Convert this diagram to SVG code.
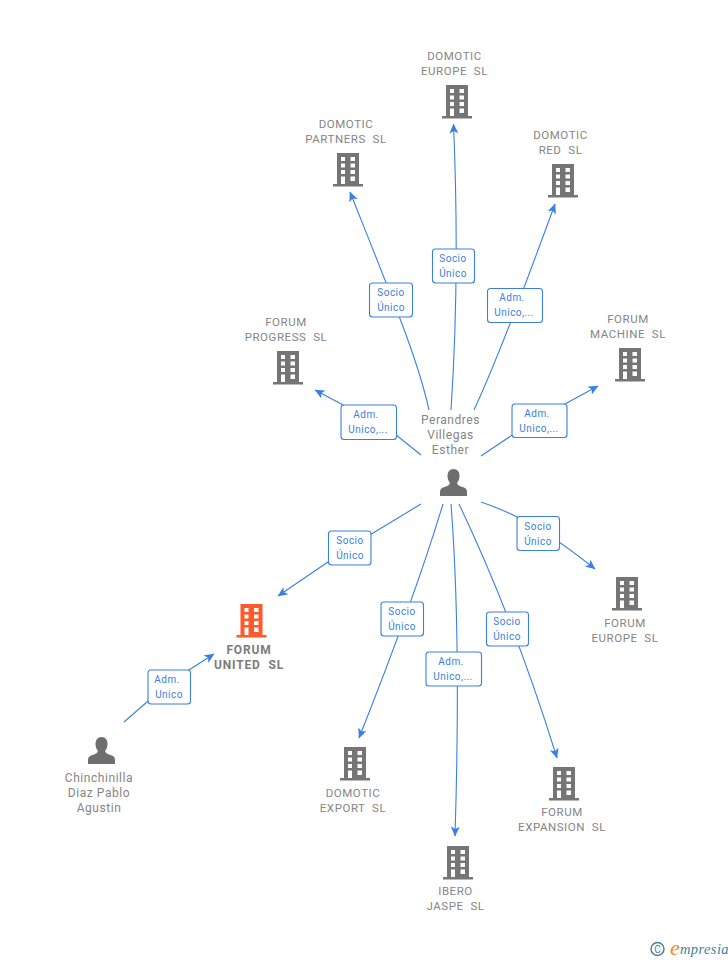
<svg xmlns="http://www.w3.org/2000/svg" width="728" height="960" viewBox="0 0 728 960">
<style>
.t{font:11.5px Roboto,"Liberation Sans",sans-serif;fill:#858585;text-anchor:middle;white-space:pre;letter-spacing:.55px}
.p{font-size:12px;letter-spacing:.55px}
.u{font-weight:700;font-size:12px;letter-spacing:.85px;fill:#7c7c7c}
.l{font:10px Roboto,"Liberation Sans",sans-serif;fill:#3a80e0;text-anchor:middle;letter-spacing:.45px}
.b{fill:#fff;stroke:#3a80e0;stroke-width:1.1}
.c{fill:none;stroke:#3a80e0;stroke-width:1.1;marker-end:url(#a)}
</style>
<defs>
<marker id="a" markerUnits="userSpaceOnUse" markerWidth="12" markerHeight="12" refX="9.500" refY="4.500" orient="auto"><path d="M0 0L10 4.500L0 9L2.500 4.500Z" fill="#3a80e0"/></marker>
<path id="bld" fill-rule="evenodd" d="M-11 0H11V31H15V33.500H-15V31H-11ZM-7 4V8H-3V4ZM2.500 4V8H7V4ZM-7 10.500V14.500H-3V10.500ZM2.500 10.500V14.500H7V10.500ZM-7 17V21H-3V17ZM2.500 17V21H7V17ZM-7 23.500V31H-3V23.500ZM2.500 23.500V28H7V23.500Z"/>
<path id="per" d="M0 0C4 0 6 3 6 7C6 10 5 12 3.500 14C4 16 6 17 9 18C12 19 13.500 20 13.500 23V27H-13.500V23C-13.500 20 -12 19 -9 18C-6 17 -4 16 -3.500 14C-5 12 -6 10 -6 7C-6 3 -4 0 0 0Z"/>
</defs>
<g id="connectors">
<path class="c" d="M451 410C457 320 458 230 453.500 124"/>
<path class="c" d="M429 410C418 360 395 305 350 192"/>
<path class="c" d="M474 410C495 365 520 300 555 204"/>
<path class="c" d="M421 455L390 430L315 390"/>
<path class="c" d="M481 456L530 423L598 386"/>
<path class="c" d="M481 502C510 512 540 525 595 569"/>
<path class="c" d="M459 504C488 565 525 655 557 758"/>
<path class="c" d="M451 504C460 620 458 740 455 836"/>
<path class="c" d="M443 504C420 580 390 660 359 738"/>
<path class="c" d="M421 504L350 547L278 596"/>
<path class="c" d="M124 722L170 682L214 654"/>
</g>
<g id="edge-labels">
<g><rect class="b" x="432.500" y="249" width="42" height="34" rx="3"/><text class="l" x="453" y="262">Socio</text><text class="l" x="453" y="277">Único</text></g>
<g><rect class="b" x="369.500" y="283" width="43" height="34" rx="3"/><text class="l" x="391" y="296">Socio</text><text class="l" x="391" y="311">Único</text></g>
<g><rect class="b" x="487.500" y="288.500" width="55" height="34" rx="3"/><text class="l" x="512" y="301">Adm.</text><text class="l" x="514" y="316">Unico,...</text></g>
<g><rect class="b" x="341" y="405" width="55.500" height="34.500" rx="3"/><text class="l" x="366" y="418">Adm.</text><text class="l" x="368" y="433">Unico,...</text></g>
<g><rect class="b" x="512" y="404" width="55" height="33.500" rx="3"/><text class="l" x="537" y="417">Adm.</text><text class="l" x="539" y="432">Unico,...</text></g>
<g><rect class="b" x="517" y="516.500" width="42.500" height="34" rx="3"/><text class="l" x="538" y="530">Socio</text><text class="l" x="538" y="545">Único</text></g>
<g><rect class="b" x="328.500" y="531" width="42.500" height="34" rx="3"/><text class="l" x="350" y="544">Socio</text><text class="l" x="350" y="559">Único</text></g>
<g><rect class="b" x="381" y="602" width="42.500" height="34" rx="3"/><text class="l" x="402" y="615">Socio</text><text class="l" x="402" y="630">Único</text></g>
<g><rect class="b" x="486.500" y="612" width="42" height="34" rx="3"/><text class="l" x="507" y="625">Socio</text><text class="l" x="507" y="640">Único</text></g>
<g><rect class="b" x="426" y="652" width="55.500" height="34" rx="3"/><text class="l" x="451" y="665">Adm.</text><text class="l" x="453" y="680">Unico,...</text></g>
<g><rect class="b" x="148" y="670" width="42.500" height="34" rx="3"/><text class="l" x="167" y="683">Adm.</text><text class="l" x="169" y="698">Unico</text></g>
</g>
<g id="domotic-europe" fill="#757575"><use href="#bld" x="457" y="85"/><text class="t" x="454.500" y="60">DOMOTIC</text><text class="t" x="454.500" y="75">EUROPE  SL</text></g>
<g id="domotic-partners" fill="#757575"><use href="#bld" x="348" y="153"/><text class="t" x="346" y="128">DOMOTIC</text><text class="t" x="346" y="143">PARTNERS  SL</text></g>
<g id="domotic-red" fill="#757575"><use href="#bld" x="563" y="164"/><text class="t" x="560.500" y="139">DOMOTIC</text><text class="t" x="560.500" y="154">RED  SL</text></g>
<g id="forum-progress" fill="#757575"><use href="#bld" x="288" y="351"/><text class="t" x="286" y="326">FORUM</text><text class="t" x="286" y="341">PROGRESS  SL</text></g>
<g id="forum-machine" fill="#757575"><use href="#bld" x="630" y="348"/><text class="t" x="628" y="323">FORUM</text><text class="t" x="628" y="338">MACHINE  SL</text></g>
<g id="forum-europe" fill="#757575"><use href="#bld" x="627" y="577"/><text class="t" x="625" y="627">FORUM</text><text class="t" x="625" y="642">EUROPE  SL</text></g>
<g id="forum-expansion" fill="#757575"><use href="#bld" x="564" y="767"/><text class="t" x="562" y="816">FORUM</text><text class="t" x="562" y="831">EXPANSION  SL</text></g>
<g id="ibero-jaspe" fill="#757575"><use href="#bld" x="458" y="846"/><text class="t" x="455.500" y="895">IBERO</text><text class="t" x="455.500" y="910">JASPE  SL</text></g>
<g id="domotic-export" fill="#757575"><use href="#bld" x="355" y="747"/><text class="t" x="353" y="797">DOMOTIC</text><text class="t" x="353" y="812">EXPORT  SL</text></g>
<g id="forum-united" fill="#ff5a2c"><use href="#bld" x="251.500" y="604"/><text class="t u" x="249" y="654">FORUM</text><text class="t u" x="249" y="669">UNITED  SL</text></g>
<g id="perandres" fill="#6e6e6e"><use href="#per" x="453.500" y="469"/><text class="t p" x="450.500" y="424">Perandres</text><text class="t p" x="450.500" y="439">Villegas</text><text class="t p" x="450.500" y="454">Esther</text></g>
<g id="chinchinilla" fill="#6e6e6e"><use href="#per" x="101.500" y="737"/><text class="t p" x="99" y="782">Chinchinilla</text><text class="t p" x="99" y="797">Diaz Pablo</text><text class="t p" x="99" y="812">Agustin</text></g>
<g id="credit"><circle cx="657.500" cy="949" r="6.500" fill="none" stroke="#3f7f95" stroke-width="1.400"/><text x="657.500" y="953" font-family="Roboto,sans-serif" font-size="10" fill="#3f7f95" text-anchor="middle">C</text><text x="670" y="955" font-family="'Liberation Serif',serif" font-style="italic" font-size="22" fill="#f08a1d">e</text><text x="680" y="954" font-family="'Liberation Serif',serif" font-style="italic" font-size="14.500" letter-spacing=".4" fill="#3f7f95">mpresia</text></g>
</svg>
